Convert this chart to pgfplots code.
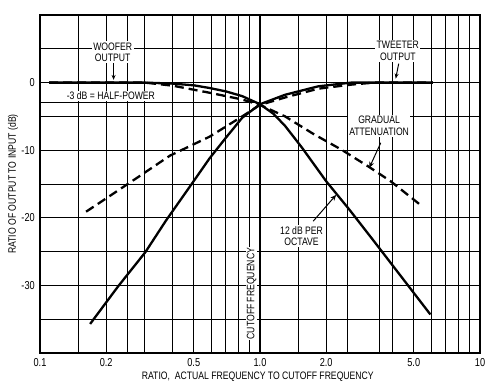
\documentclass[border=0pt]{standalone}
\usepackage{fontspec}
\setmainfont{Liberation Sans}[FakeStretch=0.8]
\usepackage{pgfplots}
\pgfplotsset{compat=1.18}
\usetikzlibrary{arrows.meta}

\begin{document}
\begin{tikzpicture}[font=\fontsize{10.8}{11.5}\selectfont]
\path[use as bounding box] (-40pt,-36pt) rectangle (452pt,353pt);
\begin{axis}[
  at={(0,0)}, anchor=south west,
  scale only axis, width=440pt, height=338pt,
  xmode=log, xmin=0.1, xmax=10, ymin=-40, ymax=10,
  log basis x=10,
  xtick={0.1,0.15,0.2,0.25,0.3,0.4,0.5,0.6,0.7,0.8,0.9,1,1.5,2,2.5,3.5,4,5,6,7,8,9,10},
  xticklabels={0.1,,0.2,,,,0.5,,,,,1.0,,2.0,,,,5.0,,,,,10},
  ytick={-35,-30,-25,-20,-15,-10,-5,0,5},
  yticklabels={,-30,,-20,,-10,,0,},
  major tick length=0pt, minor tick length=0pt,
  grid=major,
  major grid style={black, line width=1pt},
  axis line style={black, line width=1.5pt},
  xticklabel style={anchor=north, inner sep=0pt, font=\fontsize{11.5}{13}\selectfont},
  yticklabel style={anchor=east, inner sep=0pt, font=\fontsize{11.5}{13}\selectfont},
  xticklabel shift=5pt, yticklabel shift=5pt,
  xlabel={RATIO,\ \ ACTUAL FREQUENCY TO CUTOFF FREQUENCY},
  ylabel={RATIO OF OUTPUT TO INPUT (dB)},
  every axis x label/.style={at={(axis description cs:0.495,-0.071)}, anchor=center},
  every axis y label/.style={at={(axis description cs:-0.0614,0.5)}, rotate=90, anchor=center},
  clip=false,
]
% extra grid elements
\draw[black, line width=1pt] (axis cs:0.1,-3) -- (axis cs:1,-3);
\draw[black, line width=2.4pt] (axis cs:1,-40) -- (axis cs:1,10);

% annotations (white boxes over the grid)
\node[fill=white, align=center, inner sep=1.5pt] at (axis cs:0.214,4.5) {WOOFER\\OUTPUT};
\node[fill=white, align=center, inner sep=1.5pt] at (axis cs:4.23,4.7) {TWEETER\\OUTPUT};
\node[fill=white, inner sep=1pt] at (axis cs:0.21,-2.0) {-3 dB = HALF-POWER};
\node[fill=white, align=center, inner sep=1.5pt] at (axis cs:3.48,-6.4) {GRADUAL\\ATTENUATION};
\node[fill=white, align=center, inner sep=1.5pt] at (axis cs:1.546,-22.7) {12 dB PER\\OCTAVE};
\node[fill=white, rotate=90, inner sep=1pt] at (axis cs:0.915,-31.2) {CUTOFF FREQUENCY};

\draw[-{Stealth[length=5pt,width=4pt]}, line width=1pt] (axis cs:0.216,2.9) -- (axis cs:0.216,0.4);
\draw[-{Stealth[length=5pt,width=4pt]}, line width=1pt] (axis cs:4.27,2.8) -- (axis cs:4.14,0.6);
\draw[-{Stealth[length=6pt,width=5pt]}, line width=1pt] (axis cs:3.54,-8.9) -- (axis cs:3.14,-12.6);
\draw[-{Stealth[length=6pt,width=5pt]}, line width=1pt] (axis cs:1.745,-20.5) -- (axis cs:2.22,-16.6);

% woofer, 12 dB per octave
\addplot[black, line width=2.3pt, line join=round] coordinates {
 (0.11,0) (0.2,0) (0.3,0) (0.4,-0.15) (0.5,-0.4) (0.59,-0.8) (0.7,-1.3) (0.83,-2.0)
 (1,-3.2) (1.15,-4.6) (1.3,-6.4) (1.55,-9.6) (2.0,-14.6) (2.55,-18.8) (3.25,-23.2) (5.95,-34.3)};
% woofer, gradual
\addplot[black, line width=2.3pt, dash pattern=on 9pt off 5pt] coordinates {
 (0.11,0) (0.3,0) (0.4,-0.45) (0.59,-1.5) (0.83,-2.5) (1,-3.3) (1.3,-5) (1.75,-7.6)
 (2.34,-9.9) (3.14,-12.5) (3.93,-14.6) (5.46,-18.3)};
% tweeter, 12 dB per octave
\addplot[black, line width=2.3pt, line join=round] coordinates {
 (0.169,-35.7) (0.227,-30.1) (0.301,-25.1) (0.374,-20.4) (0.494,-14.8) (0.59,-11.2)
 (0.698,-8.2) (0.83,-5.2) (1,-3.2) (1.3,-1.8) (1.84,-0.55) (2.6,0) (6.1,0)};
% tweeter, gradual
\addplot[black, line width=2.3pt, dash pattern=on 9pt off 5pt] coordinates {
 (0.162,-19.1) (0.256,-14.8) (0.39,-10.8) (0.59,-8.0) (0.83,-5.0) (1,-3.3) (1.3,-2.2)
 (1.84,-0.9) (2.6,-0.3) (3.3,0) (6.1,0)};
\end{axis}
\end{tikzpicture}
\end{document}
